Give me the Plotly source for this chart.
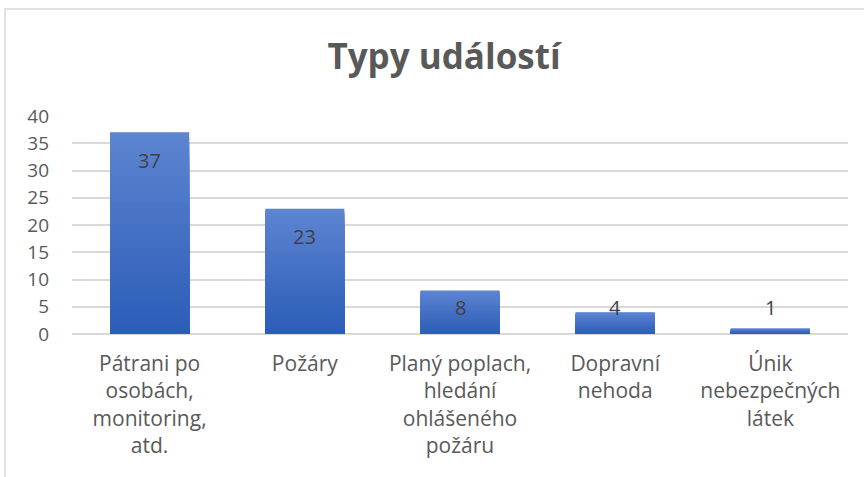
import plotly.graph_objects as go

# ---- data ----
categories = [
    "Pátrani po<br>osobách,<br>monitoring,<br>atd.",
    "Požáry",
    "Planý poplach,<br>hledání<br>ohlášeného<br>požáru",
    "Dopravní<br>nehoda",
    "Únik<br>nebezpečných<br>látek",
]
values = [37, 23, 8, 4, 1]
y_ticks = [0, 5, 10, 15, 20, 25, 30, 35, 40]
title_text = "Typy událostí"

# ---- style ----
FONT = "'Open Sans', Lato, sans-serif"
TXT = "#595959"
top_rgb = (93, 132, 208)
bot_rgb = (44, 93, 184)
N_LAYERS = 40

W, H = 864, 477
ML, MR, MT, MB = 72, 16, 116, 143
PW, PH = W - ML - MR, H - MT - MB

fig = go.Figure()

# vertical gradient on each bar: overlaid bars from full height down to short, darker shades on top
for i in range(N_LAYERS):
    frac = 1 - i / N_LAYERS
    t = i / (N_LAYERS - 1)
    c = tuple(round(top_rgb[k] + (bot_rgb[k] - top_rgb[k]) * t) for k in range(3))
    fig.add_trace(go.Bar(
        x=categories,
        y=[v * frac for v in values],
        marker=dict(color="rgb(%d,%d,%d)" % c, line=dict(width=0)),
        width=0.51,
        hoverinfo="skip",
        showlegend=False,
    ))

# data labels
for cat, v in zip(categories, values):
    fig.add_annotation(
        x=cat, y=max(v - 5.1, 4.8), text=str(v), showarrow=False,
        font=dict(family=FONT, size=20, color="#404040"),
        xanchor="center", yanchor="middle",
    )

# chart frame (left and top edge visible)
fig.add_shape(
    type="rect", xref="paper", yref="paper",
    x0=(5 - ML) / PW, x1=(W + 10 - ML) / PW,
    y0=-(H + 10 - MT - PH) / PH, y1=1 + (MT - 9) / PH,
    line=dict(color="#D9D9D9", width=1.5), fillcolor="rgba(0,0,0,0)",
    layer="below",
)

fig.update_layout(
    width=W, height=H,
    margin=dict(l=ML, r=MR, t=MT, b=MB, pad=0),
    paper_bgcolor="white", plot_bgcolor="white",
    barmode="overlay",
    title=dict(
        text="<b>%s</b>" % title_text, x=444 / W, xanchor="center",
        y=1 - 57 / H, yanchor="middle",
        font=dict(family=FONT, size=35, color=TXT),
    ),
    font=dict(family=FONT, color=TXT),
    xaxis=dict(
        tickfont=dict(family=FONT, size=21, color=TXT),
        showgrid=False, showline=False, ticks="",
        ticklabelstandoff=15,
    ),
    yaxis=dict(
        range=[0, 40], tickvals=y_ticks,
        tickfont=dict(family=FONT, size=19, color=TXT),
        showgrid=True, gridcolor="#D9D9D9", gridwidth=1.5,
        zeroline=True, zerolinecolor="#D9D9D9", zerolinewidth=1.5,
        showline=False, ticks="", ticklabelstandoff=22,
    ),
)

fig.write_html(
    "out.html",
    config={"displayModeBar": False},
    post_script="document.body.style.margin='0px';",
)
